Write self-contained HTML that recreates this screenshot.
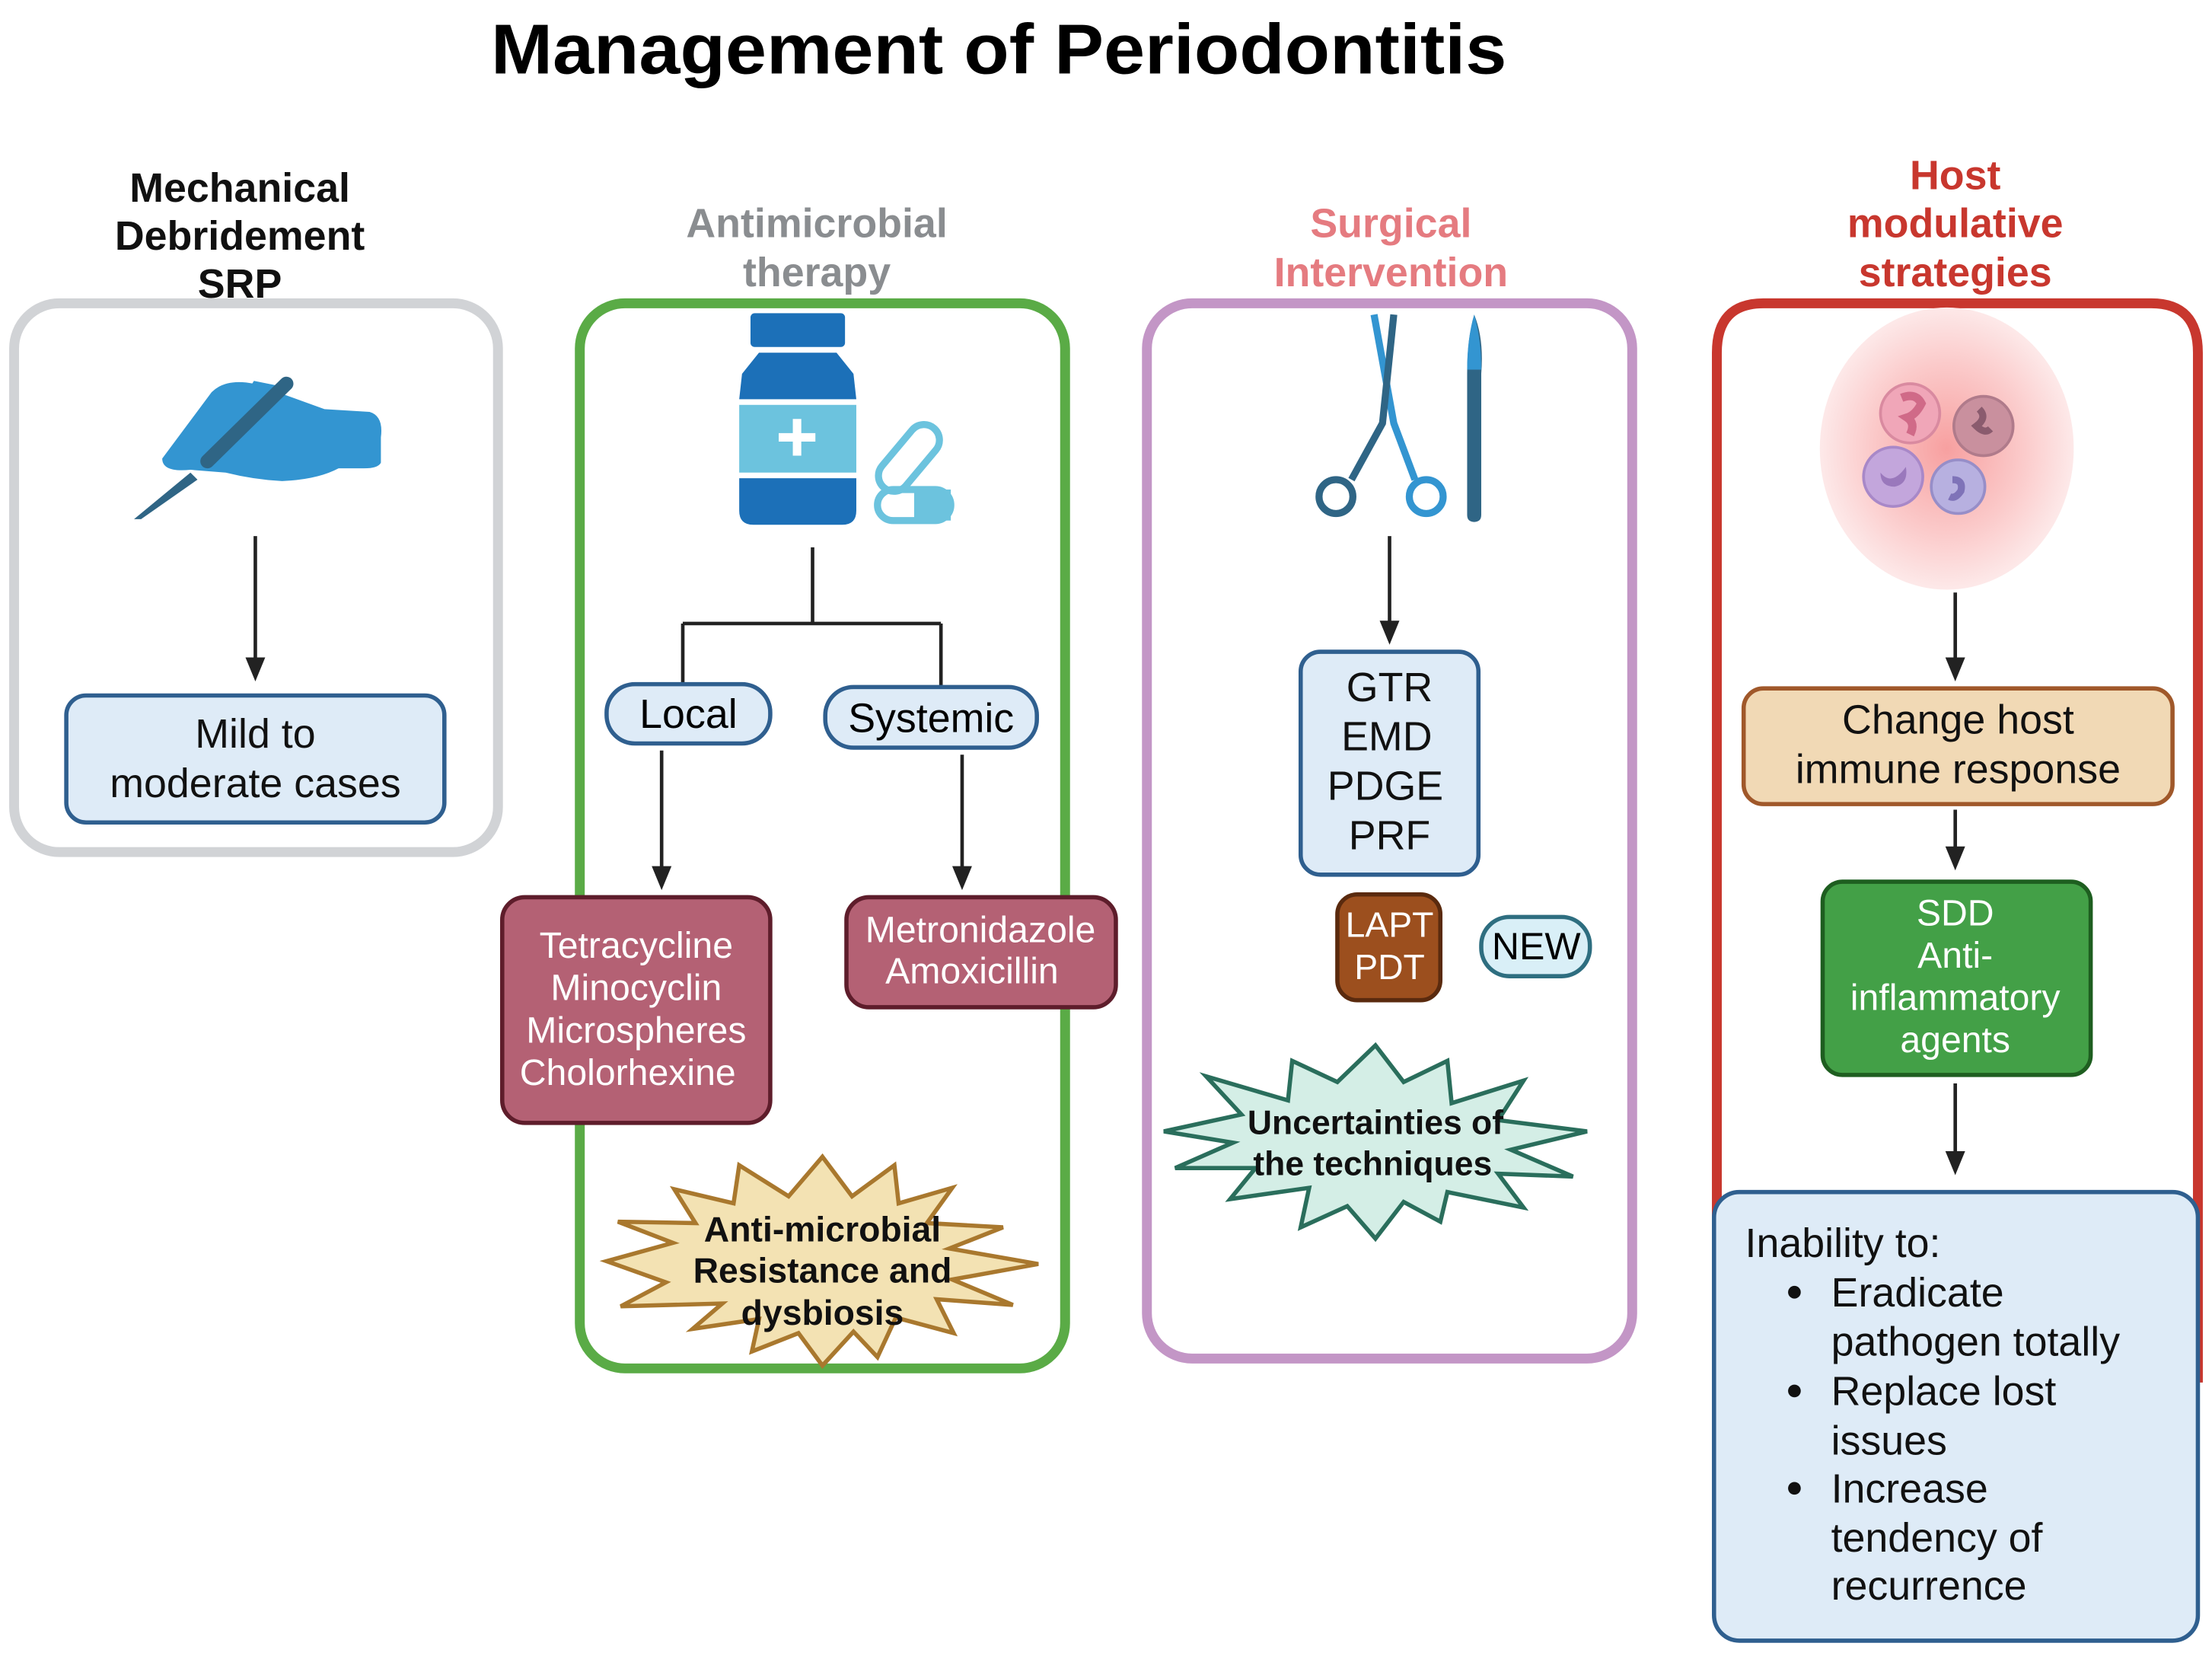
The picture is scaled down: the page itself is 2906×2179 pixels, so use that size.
<!DOCTYPE html>
<html><head><meta charset="utf-8"><style>
html,body{margin:0;padding:0;background:#fff;}
svg{display:block;}
text{font-family:"Liberation Sans Narrow","Liberation Sans",sans-serif;}
</style></head><body>
<svg width="2906" height="2179" viewBox="0 0 1568 1176" preserveAspectRatio="none" xmlns="http://www.w3.org/2000/svg">
<defs>
<radialGradient id="glow" cx="50%" cy="50%" r="50%">
<stop offset="0" stop-color="#f7a0a0"/><stop offset="0.6" stop-color="#fbcaca"/><stop offset="1" stop-color="#fde9e9"/>
</radialGradient>
</defs>
<rect width="1568" height="1176" fill="#fff"/>

<text x="708" y="52" font-size="50" font-weight="bold" text-anchor="middle" textLength="720" lengthAdjust="spacingAndGlyphs" style="font-family:'Liberation Sans',sans-serif">Management of Periodontitis</text>

<!-- arrows -->
<g stroke="#222" stroke-width="2.5" fill="none">
<path d="M181,380 V470"/><path d="M469,532 V618"/><path d="M682,535 V618"/><path d="M985,380 V444"/>
<path d="M1386,420 V470"/><path d="M1386,574 V604"/><path d="M1386,768 V820"/>
</g>
<g fill="#222">
<path d="M174,466 H188 L181,483 Z"/><path d="M462,614 H476 L469,631 Z"/><path d="M675,614 H689 L682,631 Z"/>
<path d="M978,440 H992 L985,457 Z"/><path d="M1379,466 H1393 L1386,483 Z"/><path d="M1379,600 H1393 L1386,617 Z"/>
<path d="M1379,816 H1393 L1386,833 Z"/>
</g>

<!-- Column 1 -->
<g font-size="29" font-weight="bold" text-anchor="middle" fill="#111">
<text x="170" y="143">Mechanical</text><text x="170" y="177">Debridement</text><text x="170" y="211">SRP</text>
</g>
<rect x="10" y="215" width="343" height="389" rx="32" fill="none" stroke="#d1d3d6" stroke-width="7"/>
<path d="M115,325 L150,278 Q160,268 180,272 L230,290 L262,292 Q272,295 270,310 L270,328 Q268,332 258,332 L240,332 Q225,340 200,341 Q180,340 160,335 L135,333 Q115,335 115,325 Z" fill="#3395d1"/>
<path d="M180,270 L205,275 L165,320 L150,318 Z" fill="#3395d1"/>
<path d="M203,272 L147,327" stroke="#2f6585" stroke-width="10" stroke-linecap="round"/>
<path d="M135,335 L95,368 L100,368 L140,340 Z" fill="#2f6585"/>
<rect x="47" y="493" width="268" height="90" rx="14" fill="#deebf7" stroke="#2f5f8f" stroke-width="3"/>
<g font-size="29" text-anchor="middle" fill="#111">
<text x="181" y="530">Mild to</text><text x="181" y="565">moderate cases</text>
</g>

<!-- Column 2 -->
<g font-size="29" font-weight="bold" text-anchor="middle" fill="#8a8d90">
<text x="579" y="168">Antimicrobial</text><text x="579" y="203">therapy</text>
</g>
<rect x="411" y="215" width="344" height="755" rx="32" fill="none" stroke="#5aab46" stroke-width="7"/>
<rect x="532" y="222" width="67" height="24" rx="3" fill="#1c70b8"/>
<path d="M538,250 L593,250 L605,265 L607,283 L524,283 L526,265 Z" fill="#1c70b8"/>
<rect x="524" y="287" width="83" height="48" fill="#6cc3de"/>
<path d="M565,297 V323 M552,310 H578" stroke="#fff" stroke-width="6"/>
<path d="M524,339 H607 V362 Q607,372 597,372 H534 Q524,372 524,362 Z" fill="#1c70b8"/>
<rect x="617" y="314" width="55" height="22" rx="11" transform="rotate(-50 644 325)" fill="none" stroke="#6cc3de" stroke-width="5"/>
<rect x="622" y="347" width="52" height="22" rx="11" fill="none" stroke="#6cc3de" stroke-width="5"/>
<rect x="648" y="347" width="26" height="22" rx="0" fill="#6cc3de"/>
<path d="M576,388 V442 M484,442 H667 M484,442 V485 M667,442 V488" stroke="#222" stroke-width="2.5" fill="none"/>
<rect x="430" y="485" width="116" height="42" rx="20" fill="#deebf7" stroke="#2f5f8f" stroke-width="3"/>
<text x="488" y="516" font-size="29" text-anchor="middle">Local</text>
<rect x="585" y="487" width="150" height="43" rx="20" fill="#deebf7" stroke="#2f5f8f" stroke-width="3"/>
<text x="660" y="519" font-size="29" text-anchor="middle">Systemic</text>
<rect x="356" y="636" width="190" height="160" rx="16" fill="#b46174" stroke="#5e1d2b" stroke-width="3"/>
<g font-size="26" text-anchor="middle" fill="#fff">
<text x="451" y="679">Tetracycline</text><text x="451" y="709">Minocyclin</text><text x="451" y="739">Microspheres</text><text x="445" y="769">Cholorhexine</text>
</g>
<rect x="600" y="636" width="191" height="78" rx="16" fill="#b46174" stroke="#5e1d2b" stroke-width="3"/>
<g font-size="26" text-anchor="middle" fill="#fff">
<text x="695" y="668">Metronidazole</text><text x="689" y="697">Amoxicillin</text>
</g>
<path d="M583,820 L604,848 L634,826 L637,853 L675,842 L657,867 L711,870 L673,885 L736,896 L675,907 L718,925 L664,921 L676,945 L635,934 L622,962 L605,944 L583,968 L566,945 L533,958 L538,935 L491,942 L512,924 L440,926 L472,909 L430,894 L477,881 L438,866 L493,867 L478,843 L520,853 L524,826 L559,848 Z" fill="#f3e2b3" stroke="#a9782e" stroke-width="3"/>
<g font-size="25" font-weight="bold" text-anchor="middle" fill="#111">
<text x="583" y="880">Anti-microbial</text><text x="583" y="909">Resistance and</text><text x="583" y="939">dysbiosis</text>
</g>

<!-- Column 3 -->
<g font-size="29" font-weight="bold" text-anchor="middle" fill="#e57b80">
<text x="986" y="168">Surgical</text><text x="986" y="203">Intervention</text>
</g>
<rect x="813" y="215" width="344" height="748" rx="32" fill="none" stroke="#c396c6" stroke-width="7"/>
<path d="M974,223 L988,300 L1003,340" stroke="#3395d1" stroke-width="5" fill="none"/>
<path d="M988,223 L980,300 L958,340" stroke="#2f6585" stroke-width="5" fill="none"/>
<circle cx="947" cy="352" r="12" fill="none" stroke="#2f6585" stroke-width="5"/>
<circle cx="1011" cy="352" r="12" fill="none" stroke="#3395d1" stroke-width="5"/>
<path d="M1045,223 Q1052,240 1050,265 L1050,365 Q1050,370 1045,370 Q1040,370 1040,365 L1040,265 Q1040,240 1045,223 Z" fill="#2f6585"/>
<path d="M1045,223 Q1050,240 1050,262 L1040,262 Q1040,240 1045,223Z" fill="#3395d1"/>
<rect x="922" y="462" width="126" height="158" rx="14" fill="#deebf7" stroke="#2f5f8f" stroke-width="3"/>
<g font-size="29" text-anchor="middle" fill="#111">
<text x="985" y="497">GTR</text><text x="983" y="532">EMD</text><text x="982" y="567">PDGE</text><text x="985" y="602">PRF</text>
</g>
<rect x="948" y="634" width="73" height="75" rx="14" fill="#9c4f1e" stroke="#5a2a0e" stroke-width="3"/>
<g font-size="25" text-anchor="middle" fill="#fff"><text x="985" y="664">LAPT</text><text x="985" y="694">PDT</text></g>
<rect x="1050" y="650" width="77" height="42" rx="20" fill="#d9eff7" stroke="#2e6e80" stroke-width="3"/>
<text x="1089" y="680" font-size="27" text-anchor="middle">NEW</text>
<path d="M975,741 L995,767 L1026,752 L1029,782 L1080,766 L1062,794 L1125,802 L1071,815 L1115,834 L1062,832 L1080,856 L1026,845 L1021,866 L995,852 L975,878 L955,855 L922,870 L928,842 L872,850 L890,828 L833,828 L874,810 L825,802 L880,790 L855,763 L913,780 L916,752 L948,767 Z" fill="#d4eee6" stroke="#2a6e5c" stroke-width="3"/>
<g font-size="24" font-weight="bold" text-anchor="middle" fill="#111">
<text x="975" y="804">Uncertainties of</text><text x="973" y="833">the techniques</text>
</g>

<!-- Column 4 -->
<g font-size="29" font-weight="bold" text-anchor="middle" fill="#c8372e">
<text x="1386" y="134">Host</text><text x="1386" y="168">modulative</text><text x="1386" y="203">strategies</text>
</g>
<path d="M1217,980 V250 Q1217,215 1250,215 H1525 Q1558,215 1558,250 V980" fill="none" stroke="#c8372e" stroke-width="7"/>
<ellipse cx="1380" cy="318" rx="90" ry="100" fill="url(#glow)"/>
<circle cx="1354" cy="293" r="21" fill="#f0a6b8" stroke="#d98aa0" stroke-width="2"/>
<path d="M1348,282 q10,-4 14,4 q-4,8 -10,10 q6,4 2,12" stroke="#d06a88" stroke-width="6" fill="none"/>
<circle cx="1406" cy="302" r="21" fill="#c9909e" stroke="#b07b8b" stroke-width="2"/>
<path d="M1403,290 q6,6 -2,12 q6,6 10,2" stroke="#8a5b6e" stroke-width="5" fill="none"/>
<circle cx="1342" cy="338" r="21" fill="#c3a6dc" stroke="#a888c8" stroke-width="2"/>
<path d="M1333,335 q8,10 18,-4 q2,12 -8,14 q-10,0 -10,-10z" fill="#9a78bc"/>
<circle cx="1388" cy="345" r="19" fill="#b7b0e0" stroke="#978ec8" stroke-width="2"/>
<path d="M1384,340 q8,0 6,8 q-4,6 -8,4" stroke="#7f73b8" stroke-width="5" fill="none"/>
<rect x="1236" y="488" width="304" height="82" rx="14" fill="#f1d9b5" stroke="#a0582a" stroke-width="3"/>
<g font-size="29" text-anchor="middle" fill="#111"><text x="1388" y="520">Change host</text><text x="1388" y="555">immune response</text></g>
<rect x="1292" y="625" width="190" height="137" rx="14" fill="#43a047" stroke="#1e5e20" stroke-width="3"/>
<g font-size="26" text-anchor="middle" fill="#fff">
<text x="1386" y="656">SDD</text><text x="1386" y="686">Anti-</text><text x="1386" y="716">inflammatory</text><text x="1386" y="746">agents</text>
</g>
<rect x="1215" y="845" width="343" height="318" rx="18" fill="#deebf7" stroke="#2f5f8f" stroke-width="3"/>
<g font-size="29" fill="#111">
<text x="1237" y="891">Inability to:</text>
<text x="1298" y="926">Eradicate</text><text x="1298" y="961">pathogen totally</text>
<text x="1298" y="996">Replace lost</text><text x="1298" y="1031">issues</text>
<text x="1298" y="1065">Increase</text><text x="1298" y="1100">tendency of</text><text x="1298" y="1134">recurrence</text>
</g>
<circle cx="1272" cy="916" r="4.5" fill="#111"/>
<circle cx="1272" cy="986" r="4.5" fill="#111"/>
<circle cx="1272" cy="1055" r="4.5" fill="#111"/>
</svg>
</body></html>
